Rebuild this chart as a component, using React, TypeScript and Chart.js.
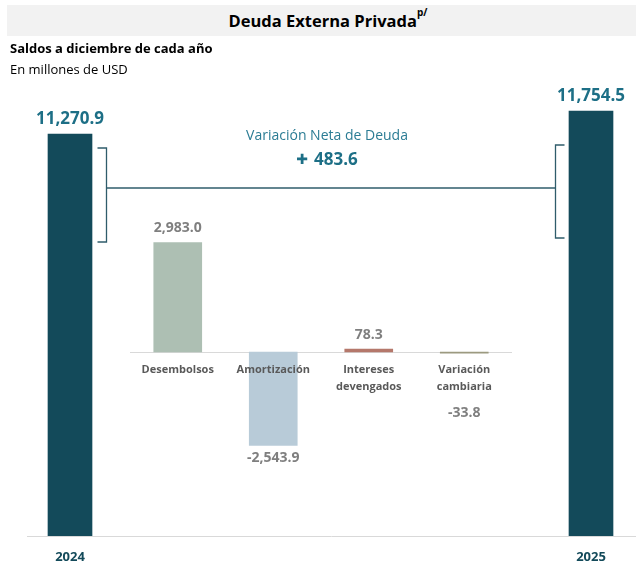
import React, { useEffect, useRef } from 'react';
import { Chart, registerables } from 'chart.js';

Chart.register(...registerables);

// ---- data ----
const years = ['2024', '2025'];
const balances = [11270.9, 11754.5];
const flowCategories = [['Desembolsos'], ['Amortización'], ['Intereses', 'devengados'], ['Variación', 'cambiaria']];
const flowValues = [2983.0, -2543.9, 78.3, -33.8];

// ---- styles ----
const FONT = "'Open Sans', sans-serif";
const BALANCE_COLOR = '#134a5a';
const FLOW_COLORS = ['#adbfb3', '#b8cbd8', '#b5786b', '#9c9a80'];
const TEAL_TEXT = '#1d6f86';
const GRAY_VALUE = '#7f7f7f';
const GRAY_CAT = '#595959';
const BRACKET = '#2f5c6b';
const AXIS_LINE = '#d9d9d9';

const fmt = (v: number) =>
  v.toLocaleString('en-US', { minimumFractionDigits: 1, maximumFractionDigits: 1 });

const overlayPlugin = {
  id: 'overlay',
  afterLayout(chart: any) {
    // narrow the flows axis to the central region between the two balance bars
    const s = chart.scales.x2;
    const a = chart.chartArea;
    s.left = a.left + 60;
    s.right = a.right - 79;
    s.width = s.right - s.left;
    s.configure();
  },
  beforeDatasetsDraw(chart: any) {
    const ctx = chart.ctx;
    const a = chart.chartArea;
    const x2 = chart.scales.x2;
    const yM = chart.scales.yMid;
    ctx.save();
    ctx.strokeStyle = AXIS_LINE;
    ctx.lineWidth = 1;
    // bottom axis line
    ctx.beginPath();
    ctx.moveTo(a.left - 43, a.bottom + 0.5);
    ctx.lineTo(a.right + 45, a.bottom + 0.5);
    ctx.stroke();
    // flows baseline
    const y0 = Math.round(yM.getPixelForValue(0)) + 0.5;
    ctx.beginPath();
    ctx.moveTo(x2.left, y0);
    ctx.lineTo(x2.right, y0);
    ctx.stroke();
    ctx.restore();
  },
  afterDatasetsDraw(chart: any) {
    const ctx = chart.ctx;
    const a = chart.chartArea;
    const x2 = chart.scales.x2;
    const yM = chart.scales.yMid;
    const big = chart.getDatasetMeta(0).data;
    const flows = chart.getDatasetMeta(1).data;
    ctx.save();
    ctx.textAlign = 'center';
    ctx.textBaseline = 'middle';

    // balance labels
    ctx.fillStyle = TEAL_TEXT;
    ctx.font = `bold 17px ${FONT}`;
    big.forEach((el: any, i: number) => {
      ctx.fillText(fmt(balances[i]), el.x, el.y - 15);
    });

    // flow category labels
    const y0 = yM.getPixelForValue(0);
    ctx.fillStyle = GRAY_CAT;
    ctx.font = `bold 11px ${FONT}`;
    flowCategories.forEach((lines, i) => {
      const cx = x2.getPixelForValue(i);
      lines.forEach((ln, j) => ctx.fillText(ln, cx, y0 + 18 + j * 17));
    });

    // flow value labels
    ctx.fillStyle = GRAY_VALUE;
    ctx.font = `bold 14px ${FONT}`;
    flows.forEach((el: any, i: number) => {
      const v = flowValues[i];
      let ty: number;
      if (v >= 0) {
        ty = el.y - 14;
      } else {
        const textBottom = y0 + 48;
        ty = Math.max(el.y, textBottom) + 13;
      }
      ctx.fillText(fmt(v), el.x, ty);
    });

    // brackets and connector
    const lb = big[0];
    const rb = big[1];
    const lx = Math.round(lb.x + lb.width / 2 + 14) + 0.5;
    const rx = Math.round(rb.x - rb.width / 2 - 14) + 0.5;
    ctx.strokeStyle = BRACKET;
    ctx.lineWidth = 1.3;
    const top = a.top;
    ctx.beginPath();
    ctx.moveTo(lx - 9, top + 68);
    ctx.lineTo(lx, top + 68);
    ctx.lineTo(lx, top + 162);
    ctx.lineTo(lx - 9, top + 162);
    ctx.stroke();
    ctx.beginPath();
    ctx.moveTo(rx + 9, top + 65);
    ctx.lineTo(rx, top + 65);
    ctx.lineTo(rx, top + 158);
    ctx.lineTo(rx + 9, top + 158);
    ctx.stroke();
    ctx.beginPath();
    ctx.moveTo(lx, top + 108);
    ctx.lineTo(rx, top + 108);
    ctx.stroke();

    // net change text
    const cx = (lx + rx) / 2 - 4;
    ctx.fillStyle = '#2b7c94';
    ctx.font = `14px ${FONT}`;
    ctx.fillText('Variación Neta de Deuda', cx, top + 56);

    const net = balances[1] - balances[0];
    const numText = fmt(Math.abs(net));
    ctx.font = `bold 17px ${FONT}`;
    const numW = ctx.measureText(numText).width;
    ctx.font = `bold 14px 'DejaVu Sans', sans-serif`;
    const plus = net >= 0 ? '✚' : '−';
    const plusW = ctx.measureText(plus).width;
    const gap = 6;
    const total = plusW + gap + numW;
    const startX = cx - total / 2;
    ctx.fillStyle = TEAL_TEXT;
    ctx.textAlign = 'left';
    ctx.fillText(plus, startX, top + 80);
    ctx.font = `bold 17px ${FONT}`;
    ctx.fillText(numText, startX + plusW + gap, top + 80);

    ctx.restore();
  },
};

export default function App() {
  const ref = useRef<HTMLCanvasElement>(null);

  useEffect(() => {
    if (!ref.current) return;
    const chart = new Chart(ref.current, {
      type: 'bar',
      data: {
        datasets: [
          {
            data: balances,
            xAxisID: 'x',
            yAxisID: 'yBig',
            backgroundColor: BALANCE_COLOR,
            barThickness: 44,
            grouped: false,
            clip: { left: false, right: false, top: false, bottom: 0 },
          },
          {
            data: flowValues,
            xAxisID: 'x2',
            yAxisID: 'yMid',
            backgroundColor: FLOW_COLORS,
            barThickness: 48,
            grouped: false,
            clip: false,
          },
        ],
      },
      options: {
        responsive: false,
        animation: false,
        events: [],
        devicePixelRatio: 1,
        layout: { padding: { top: 80, left: 70, right: 45, bottom: 0 } },
        plugins: { legend: { display: false }, tooltip: { enabled: false }, title: { display: false } },
        scales: {
          x: {
            type: 'category',
            labels: years,
            offset: false,
            position: 'bottom',
            grid: { display: false, drawTicks: false },
            border: { display: false },
            ticks: {
              padding: 13,
              color: BALANCE_COLOR,
              font: { family: FONT, size: 13, weight: 'bold' },
              maxRotation: 0,
              autoSkip: false,
            },
            afterFit: (s: any) => {
              s.height = 35;
            },
          },
          x2: {
            type: 'category',
            labels: flowCategories as any,
            offset: true,
            display: false,
            position: 'bottom',
          },
          yBig: {
            type: 'linear',
            display: false,
            min: 2820,
            max: 12406,
          },
          yMid: {
            type: 'linear',
            display: false,
            min: -5014,
            max: 7411,
          },
        },
      } as any,
      plugins: [overlayPlugin],
    });
    return () => chart.destroy();
  }, []);

  return (
    <div style={{ position: 'relative', width: 636, height: 571, background: '#fff', fontFamily: FONT }}>
      <style>{'body{margin:0}'}</style>
      <canvas ref={ref} width={636} height={571} style={{ position: 'absolute', left: 0, top: 0 }} />
      <div
        style={{
          position: 'absolute',
          left: 7,
          top: 5,
          width: 629,
          height: 31,
          background: '#f2f2f2',
          display: 'flex',
          alignItems: 'center',
          justifyContent: 'center',
          paddingLeft: 13,
          boxSizing: 'border-box',
          color: '#000',
          fontWeight: 'bold',
          fontSize: 16.5,
        }}
      >
        <span>
          Deuda Externa Privada
          <sup style={{ fontSize: 10, verticalAlign: 'top', position: 'relative', top: -4 }}>p/</sup>
        </span>
      </div>
      <div style={{ position: 'absolute', left: 10, top: 40, fontSize: 13, lineHeight: '16px', fontWeight: 'bold', color: '#000' }}>
        Saldos a diciembre de cada año
      </div>
      <div style={{ position: 'absolute', left: 10, top: 61, fontSize: 13, lineHeight: '16px', color: '#000' }}>
        En millones de USD
      </div>
    </div>
  );
}
